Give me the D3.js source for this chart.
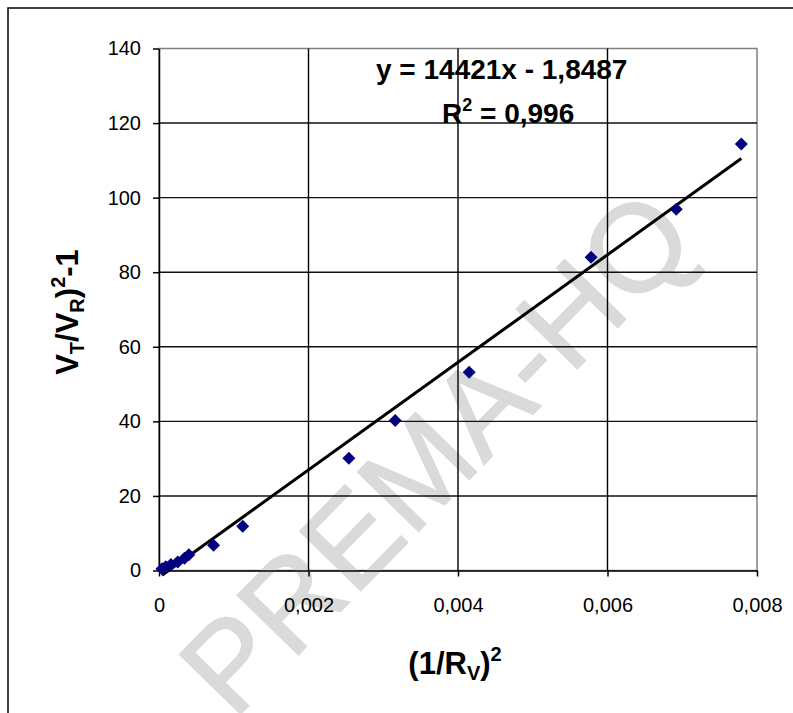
<!DOCTYPE html>
<html>
<head>
<meta charset="utf-8">
<script src="https://cdn.jsdelivr.net/npm/d3@7"></script>
<style>
  body { margin: 0; background: #fff; }
  text { font-family: Arial, 'Liberation Sans', sans-serif; }
</style>
</head>
<body>
<div class="canvas"></div>
<script>
// measured points
const xValues = [0.00004, 0.00009, 0.00016, 0.00025, 0.00034, 0.00040, 0.00073, 0.00112, 0.00254, 0.00316, 0.00415, 0.00578, 0.00692, 0.00779]
const yValues = [0.5, 1.0, 1.6, 2.3, 3.3, 4.2, 6.8, 11.9, 30.1, 40.2, 53.2, 84.0, 96.9, 114.4]

// linear trend
const slope = 14421
const intercept = -1.8487
const rSquared = '0,996'

const xTicks = [0, 0.002, 0.004, 0.006, 0.008]
const yTicks = [0, 20, 40, 60, 80, 100, 120, 140]

const dims = { width: 793, height: 713 }
const plot = { left: 159, right: 757, top: 48.5, bottom: 570.5 }

const svg = d3.select('.canvas').append('svg')
  .attr('width', dims.width)
  .attr('height', dims.height)

svg.append('rect')
  .attr('width', dims.width).attr('height', dims.height)
  .attr('fill', '#fff')

// outer chart frame (runs off the right and bottom edges)
svg.append('rect')
  .attr('x', 8).attr('y', 8)
  .attr('width', 820).attr('height', 740)
  .attr('fill', 'none')
  .attr('stroke', '#000')
  .attr('stroke-width', 1.5)

const x = d3.scaleLinear()
  .domain([0, 0.008])
  .range([plot.left, plot.right])

const y = d3.scaleLinear()
  .domain([0, 140])
  .range([plot.bottom, plot.top])

const fmt = d => d === 0 ? '0' : d3.format('.3f')(d).replace('.', ',')

// plot area border (grey on top / right)
svg.append('rect')
  .attr('x', plot.left).attr('y', plot.top)
  .attr('width', plot.right - plot.left)
  .attr('height', plot.bottom - plot.top)
  .attr('fill', '#fff')
  .attr('stroke', '#808080')
  .attr('stroke-width', 1.5)

// watermark, under the marks
svg.append('text')
  .attr('transform', 'translate(436, 452) rotate(-45.7)')
  .attr('text-anchor', 'middle')
  .attr('dominant-baseline', 'central')
  .attr('font-size', 124)
  .attr('fill', '#dadada')
  .attr('stroke', '#dadada')
  .attr('stroke-width', 1.5)
  .text('PREMA-HQ')

// grid
const grid = svg.append('g')
grid.selectAll('.hgrid')
  .data(yTicks.filter(d => d > 0 && d < 140))
  .enter().append('line')
  .attr('x1', plot.left).attr('x2', plot.right)
  .attr('y1', d => y(d)).attr('y2', d => y(d))
  .attr('stroke', '#111')
  .attr('stroke-width', 1.4)

grid.selectAll('.vgrid')
  .data(xTicks.filter(d => d > 0 && d < 0.008))
  .enter().append('line')
  .attr('x1', d => x(d)).attr('x2', d => x(d))
  .attr('y1', plot.top).attr('y2', plot.bottom)
  .attr('stroke', '#000')
  .attr('stroke-width', 1.4)

// axes
const yAxis = d3.axisLeft(y)
  .tickValues(yTicks)
  .tickSize(6)
  .tickPadding(12)
  .tickSizeOuter(0)

const xAxis = d3.axisBottom(x)
  .tickValues(xTicks)
  .tickFormat(fmt)
  .tickSize(6)
  .tickPadding(21)
  .tickSizeOuter(0)

const yG = svg.append('g')
  .attr('transform', `translate(${plot.left}, 0)`)
  .call(yAxis)

const xG = svg.append('g')
  .attr('transform', `translate(0, ${plot.bottom})`)
  .call(xAxis)

;[xG, yG].forEach(g => {
  g.select('.domain').attr('stroke', '#000').attr('stroke-width', 1.5)
  g.selectAll('.tick line').attr('stroke', '#000').attr('stroke-width', 1.5)
  g.selectAll('text')
    .attr('fill', '#000')
    .attr('font-size', 20)
    .style('font-family', 'Arial, "Liberation Sans", sans-serif')
})

// trend line
const xMin = d3.min(xValues)
const xMax = d3.max(xValues)
svg.append('line')
  .attr('x1', x(xMin)).attr('y1', y(slope * xMin + intercept))
  .attr('x2', x(xMax)).attr('y2', y(slope * xMax + intercept))
  .attr('stroke', '#000')
  .attr('stroke-width', 3)

// points
svg.append('g').selectAll('path')
  .data(xValues.map((d, i) => ({ x: d, y: yValues[i] })))
  .enter().append('path')
  .attr('d', 'M0,-6.5L6.5,0L0,6.5L-6.5,0Z')
  .attr('transform', d => `translate(${x(d.x)}, ${y(d.y)})`)
  .attr('fill', '#000080')

// equation label
const eqText = `y = ${slope}x - ${d3.format('.4f')(Math.abs(intercept)).replace('.', ',')}`
svg.append('text')
  .attr('x', 376).attr('y', 79)
  .attr('font-size', 28)
  .attr('font-weight', 'bold')
  .text(eqText)

const r2 = svg.append('text')
  .attr('x', 442).attr('y', 123)
  .attr('font-size', 28)
  .attr('font-weight', 'bold')
r2.append('tspan').text('R')
r2.append('tspan').attr('font-size', 18).attr('dy', -12).text('2')
r2.append('tspan').attr('dy', 12).text(` = ${rSquared}`)

// axis titles
const xTitle = svg.append('text')
  .attr('x', 455).attr('y', 674)
  .attr('text-anchor', 'middle')
  .attr('font-size', 31)
  .attr('font-weight', 'bold')
xTitle.append('tspan').text('(1/R')
xTitle.append('tspan').attr('font-size', 20).attr('dy', 6).text('V')
xTitle.append('tspan').attr('dy', -6).text(')')
xTitle.append('tspan').attr('font-size', 20).attr('dy', -13).text('2')

const yTitle = svg.append('text')
  .attr('transform', 'translate(78, 312) rotate(-90)')
  .attr('text-anchor', 'middle')
  .attr('font-size', 31)
  .attr('font-weight', 'bold')
yTitle.append('tspan').text('V')
yTitle.append('tspan').attr('font-size', 20).attr('dy', 6).text('T')
yTitle.append('tspan').attr('dy', -6).text('/V')
yTitle.append('tspan').attr('font-size', 20).attr('dy', 6).text('R')
yTitle.append('tspan').attr('dy', -6).text(')')
yTitle.append('tspan').attr('font-size', 20).attr('dy', -13).text('2')
yTitle.append('tspan').attr('dy', 13).text('-1')
</script>
</body>
</html>
